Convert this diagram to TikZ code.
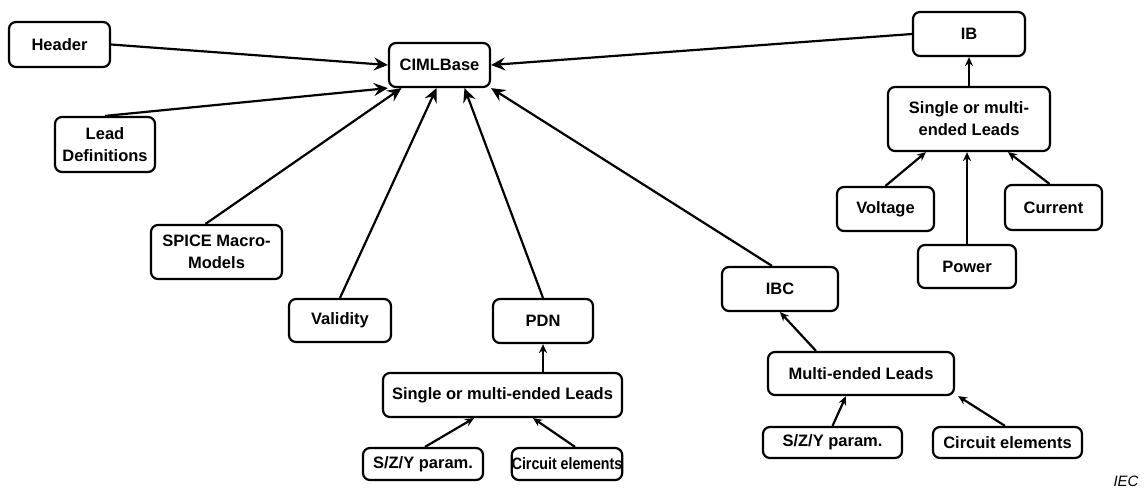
\documentclass[tikz,border=0pt]{standalone}
\usepackage{fontspec}
\setmainfont{Liberation Sans}
\usetikzlibrary{arrows.meta}
\tikzset{
  box/.style={draw, rounded corners=7pt, line width=2.2pt, align=center, inner sep=0pt,
    font=\fontsize{16.5}{22}\selectfont\bfseries},
  link/.style={line width=2.2pt, -{Stealth[length=14pt,width=13pt,inset=5pt]}},
  sublink/.style={line width=2.2pt, -{Stealth[length=9pt,width=8pt,inset=3pt]}}
}
\begin{document}
\begin{tikzpicture}[x=1pt,y=-1pt]
  \useasboundingbox (0,0) rectangle (1146,488);

  \node [box, minimum width=101pt, minimum height=44pt] (base) at (439.5,65) {CIMLBase};
  \node [box, minimum width=101pt, minimum height=45pt] (header) at (59.5,44.5) {Header};
  \node [box, minimum width=100pt, minimum height=55pt] (leaddef) at (105,144.5) {Lead\\Definitions};
  \node [box, minimum width=131pt, minimum height=54pt] (spice) at (216.5,252) {SPICE Macro-\\Models};
  \node [box, minimum width=102pt, minimum height=43pt] (validity) at (340,320.5) {Validity};
  \node [box, minimum width=100pt, minimum height=44pt] (pdn) at (543,321) {PDN};
  \node [box, minimum width=239pt, minimum height=44pt] (leadspdn) at (502.5,395) {Single or multi-ended Leads};
  \node [box, minimum width=120pt, minimum height=32pt] (szypdn) at (423,464) {S/Z/Y param.};
  \node [box, minimum width=110pt, minimum height=32pt] (circpdn) at (567,464) {\scalebox{0.86}[1]{Circuit elements}};

  \node [box, minimum width=116pt, minimum height=44pt] (ibc) at (780,289) {IBC};
  \node [box, minimum width=186pt, minimum height=43pt] (leadsibc) at (861,373.5) {Multi-ended Leads};
  \node [box, minimum width=139pt, minimum height=31pt] (szyibc) at (832.5,442.5) {S/Z/Y param.};
  \node [box, minimum width=149pt, minimum height=31pt] (circibc) at (1007.5,442.5) {Circuit elements};

  \node [box, minimum width=112pt, minimum height=44pt] (ib) at (969,34) {IB};
  \node [box, minimum width=162pt, minimum height=64pt] (leadsib) at (969,119) {Single or multi-\\ended Leads};
  \node [box, minimum width=97pt, minimum height=44pt] (voltage) at (885.5,209) {Voltage};
  \node [box, minimum width=97pt, minimum height=45pt] (current) at (1053.5,207.5) {Current};
  \node [box, minimum width=98pt, minimum height=43pt] (power) at (967,266.5) {Power};

  \node [font=\fontsize{15}{17}\selectfont\itshape] (iec) at (1126,481) {IEC};

  \draw [link] (header.east) -- (base.west);
  \draw [link] (leaddef.north) -- (base.south west);
  \draw [link] ([xshift=-11pt]spice.north) -- ([xshift=-38pt]base.south);
  \draw [link] (validity.north) -- ([xshift=-3pt]base.south);
  \draw [link] (pdn.north) -- ([xshift=25pt]base.south);
  \draw [link] ([xshift=-8pt]ibc.north) -- (base.south east);
  \draw [link] (ib.west) -- (base.east);

  \draw [sublink] (pdn.south |- leadspdn.north) -- (pdn.south);
  \draw [sublink] ([xshift=2pt]szypdn.north) -- ([xshift=-28.5pt]leadspdn.south);
  \draw [sublink] ([xshift=8pt]circpdn.north) -- ([xshift=30.5pt]leadspdn.south);

  \draw [sublink] ([xshift=-45pt]leadsibc.north) -- (ibc.south);
  \draw [sublink] (szyibc.north) -- ([xshift=-15pt]leadsibc.south);
  \draw [sublink] ([xshift=-2.5pt]circibc.north) -- ([xshift=3pt]leadsibc.south east);

  \draw [sublink] (leadsib.north) -- (ib.south);
  \draw [sublink] (voltage.north) -- ([xshift=-43pt]leadsib.south);
  \draw [sublink] (power.north) -- ([xshift=-2pt]leadsib.south);
  \draw [sublink] ([xshift=-4pt]current.north) -- ([xshift=39pt]leadsib.south);
\end{tikzpicture}
\end{document}
